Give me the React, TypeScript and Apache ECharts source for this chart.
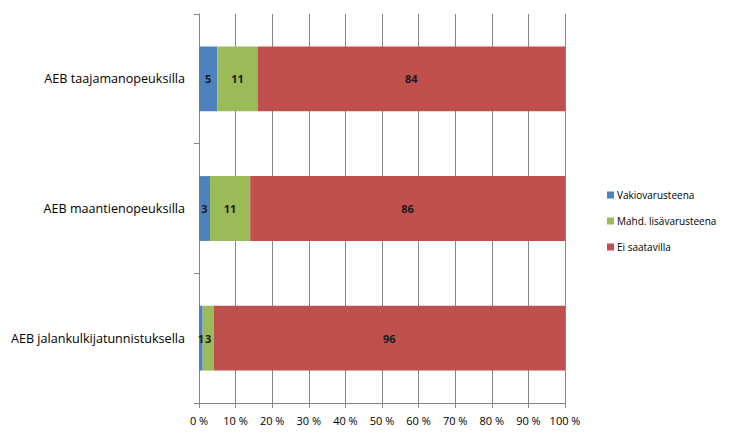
import React, { useEffect, useRef } from "react";
import * as echarts from "echarts";

const categories = [
  "AEB taajamanopeuksilla",
  "AEB maantienopeuksilla",
  "AEB jalankulkijatunnistuksella",
];
const vakio = [5, 3, 1];
const mahd = [11, 11, 3];
const ei = [84, 86, 96];
const seriesNames = ["Vakiovarusteena", "Mahd. lisävarusteena", "Ei saatavilla"];
const colors = ["#4F81BD", "#9BBB59", "#C0504D"];

export default function App() {
  const ref = useRef<HTMLDivElement>(null);
  useEffect(() => {
    if (!ref.current) return;
    const chart = echarts.init(ref.current, null, { renderer: "svg" });
    const font = "Open Sans, sans-serif";
    const label = {
      show: true,
      position: "inside",
      color: "#1a1a1a",
      fontWeight: "bold",
      fontSize: 11,
      fontFamily: font,
    };
    const datas = [vakio, mahd, ei];
    chart.setOption({
      animation: false,
      textStyle: { fontFamily: font },
      grid: { left: 199, right: 178, top: 14, bottom: 43, containLabel: false },
      legend: {
        orient: "vertical",
        left: 602,
        top: 185,
        itemWidth: 7,
        itemHeight: 7,
        itemGap: 16,
        icon: "rect",
        textStyle: { fontSize: 10, color: "#000", fontFamily: font, padding: [0, 0, 0, -2] },
        data: seriesNames,
      },
      xAxis: {
        type: "value",
        min: 0,
        max: 100,
        interval: 10,
        axisLine: { show: true, lineStyle: { color: "#868686" } },
        axisTick: { show: true, length: 5, lineStyle: { color: "#868686" } },
        axisLabel: { formatter: "{value} %", fontSize: 11, color: "#000", margin: 12 },
        splitLine: { show: true, lineStyle: { color: "#868686" } },
      },
      yAxis: {
        type: "category",
        inverse: true,
        data: categories,
        axisLine: { show: true, lineStyle: { color: "#868686" } },
        axisTick: { show: true, length: 5, lineStyle: { color: "#868686" } },
        axisLabel: { fontSize: 12.6, color: "#000", margin: 14 },
      },
      series: seriesNames.map((name, i) => ({
        name,
        type: "bar",
        stack: "total",
        barWidth: "50%",
        itemStyle: { color: colors[i] },
        label,
        data: datas[i],
      })),
    });
    return () => chart.dispose();
  }, []);
  return <div ref={ref} style={{ width: 743, height: 446, position: "absolute", left: 0, top: 0 }} />;
}
